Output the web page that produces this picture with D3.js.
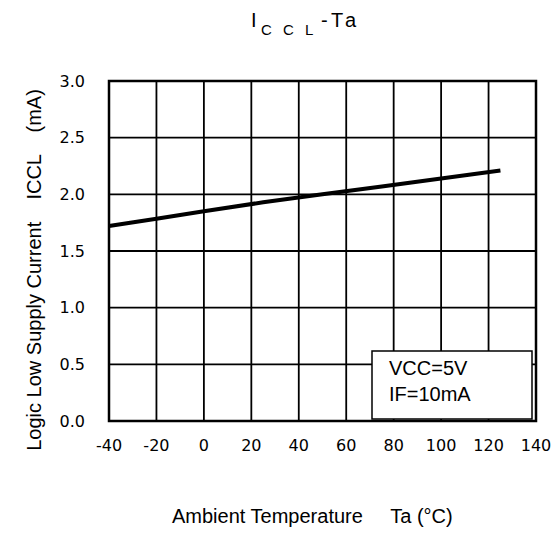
<!DOCTYPE html>
<html>
<head>
<meta charset="utf-8">
<script src="https://cdn.jsdelivr.net/npm/d3@7"></script>
<style>
  html, body { margin: 0; padding: 0; background: #fff; }
  svg { display: block; }
</style>
</head>
<body>
<svg id="chart" width="556" height="533"></svg>
<script>
// ---- data ----
const temps    = [-40, -20, 0, 25, 50, 75, 100, 125];
const iccl     = [1.72, 1.785, 1.85, 1.93, 2.0, 2.07, 2.14, 2.21];
const xTicks   = [-40, -20, 0, 20, 40, 60, 80, 100, 120, 140];
const yTicks   = [0, 0.5, 1.0, 1.5, 2.0, 2.5, 3.0];
const legendLines = ["VCC=5V", "IF=10mA"];

const svg = d3.select("#chart");
const m = { left: 109, top: 81, right: 536, bottom: 421 };

const x = d3.scaleLinear().domain([-40, 140]).range([m.left, m.right]);
const y = d3.scaleLinear().domain([0, 3]).range([m.bottom, m.top]);

// grid
const g = svg.append("g");
g.selectAll("line.vg").data(xTicks).join("line")
  .attr("x1", d => x(d)).attr("x2", d => x(d))
  .attr("y1", m.top).attr("y2", m.bottom)
  .attr("stroke", "#000").attr("stroke-width", 1.8);
g.selectAll("line.hg").data(yTicks).join("line")
  .attr("y1", d => y(d)).attr("y2", d => y(d))
  .attr("x1", m.left).attr("x2", m.right)
  .attr("stroke", "#000").attr("stroke-width", 1.8);

// border
svg.append("rect")
  .attr("x", m.left).attr("y", m.top)
  .attr("width", m.right - m.left).attr("height", m.bottom - m.top)
  .attr("fill", "none").attr("stroke", "#000").attr("stroke-width", 2.5);

// tick labels
svg.append("g").selectAll("text").data(xTicks).join("text")
  .attr("x", d => x(d)).attr("y", 451)
  .attr("text-anchor", "middle")
  .attr("font-family", "DejaVu Sans").attr("font-size", 16)
  .text(d => d);
svg.append("g").selectAll("text").data(yTicks).join("text")
  .attr("x", 85).attr("y", d => y(d)).attr("dy", "0.36em")
  .attr("text-anchor", "end")
  .attr("font-family", "DejaVu Sans").attr("font-size", 16)
  .text(d => d.toFixed(1));

// data line
const line = d3.line().x((d, i) => x(temps[i])).y(d => y(d));
svg.append("path").datum(iccl)
  .attr("d", line)
  .attr("fill", "none").attr("stroke", "#000").attr("stroke-width", 4);

// legend box
svg.append("rect")
  .attr("x", 372).attr("y", 351).attr("width", 160).attr("height", 68)
  .attr("fill", "#fff").attr("stroke", "#000").attr("stroke-width", 1.5);
svg.append("g").selectAll("text").data(legendLines).join("text")
  .attr("x", 389).attr("y", (d, i) => 375 + i * 26)
  .attr("font-family", "Liberation Sans, Arial").attr("font-size", 20)
  .text(d => d);

// title
const t = svg.append("text").attr("y", 27)
  .attr("font-family", "Liberation Sans, Arial").attr("font-size", 20);
t.append("tspan").attr("x", 251).text("I");
t.append("tspan").attr("font-size", 15).attr("dy", 8).attr("x", "261 283 305").text("CCL");
t.append("tspan").attr("dy", -8).attr("x", "321 331 345").text("-Ta");

// axis titles
svg.append("text")
  .attr("x", 172).attr("y", 523)
  .attr("font-family", "Liberation Sans, Arial").attr("font-size", 20)
  .attr("xml:space", "preserve").style("white-space", "pre")
  .text("Ambient Temperature     Ta (°C)");

svg.append("text")
  .attr("transform", "translate(41,270) rotate(-90)")
  .attr("text-anchor", "middle")
  .attr("font-family", "Liberation Sans, Arial").attr("font-size", 20)
  .attr("xml:space", "preserve").style("white-space", "pre")
  .text("Logic Low Supply Current    ICCL    (mA)");
</script>
</body>
</html>
